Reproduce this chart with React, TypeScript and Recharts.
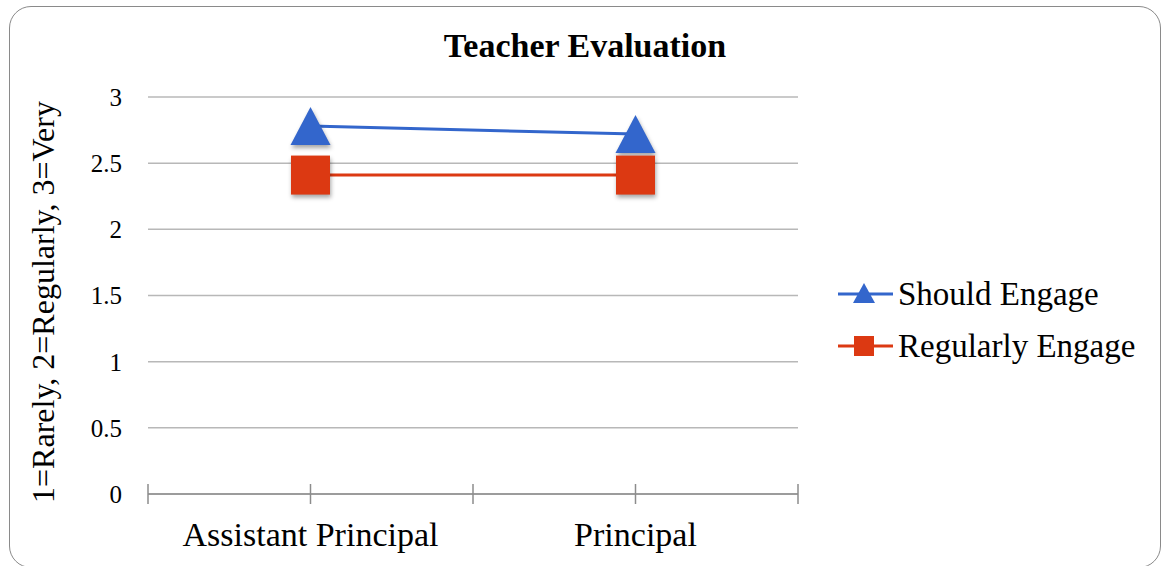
import { LineChart, Line, XAxis, YAxis, CartesianGrid } from 'recharts'

const categories = ['Assistant Principal', 'Principal']
const shouldEngage = [2.78, 2.72]
const regularlyEngage = [2.41, 2.41]
const yTicks = [0, 0.5, 1, 1.5, 2, 2.5, 3]

// categories sit at odd slots of a 0..4 axis so Excel-style boundary ticks show too
const data = categories.map((name, i) => ({
  slot: i * 2 + 1,
  name,
  should: shouldEngage[i],
  regularly: regularlyEngage[i],
}))

const BLUE = '#3366cc'
const RED = '#dc3912'
const FONT = '"Liberation Serif", "DejaVu Serif", serif'

const shadow = 'drop-shadow(1px 3px 2px rgba(0,0,0,0.35))'

function Triangle({ cx, cy }: any) {
  if (cx == null || cy == null) return null
  const w = 40, h = 38
  return (
    <path
      d={`M${cx},${cy - h / 2} L${cx + w / 2},${cy + h / 2} L${cx - w / 2},${cy + h / 2} Z`}
      fill={BLUE}
      style={{ filter: shadow }}
    />
  )
}

function Square({ cx, cy }: any) {
  if (cx == null || cy == null) return null
  const s = 39
  return <rect x={cx - s / 2} y={cy - s / 2} width={s} height={s} fill={RED} style={{ filter: shadow }} />
}

function XTick({ x, y, payload }: any) {
  const label = payload.value % 2 === 1 ? categories[(payload.value - 1) / 2] : ''
  const axisY = y - 4
  return (
    <g>
      <line x1={x} x2={x} y1={axisY - 10} y2={axisY + 10} stroke="#8c8c8c" strokeWidth={1.5} />
      {label && (
        <text x={x} y={axisY + 52} textAnchor="middle" fontSize={34} fill="#000" fontFamily={FONT}>
          {label}
        </text>
      )}
    </g>
  )
}

function ChartLegend() {
  const items = [
    { label: 'Should Engage', color: BLUE, shape: 'tri' },
    { label: 'Regularly Engage', color: RED, shape: 'sq' },
  ]
  return (
    <div style={{ position: 'absolute', left: 838, top: 268, fontFamily: FONT, fontSize: 33 }}>
      {items.map(it => (
        <div key={it.label} style={{ display: 'flex', alignItems: 'center', height: 52 }}>
          <svg width={58} height={30}>
            <line x1={0} x2={55} y1={15} y2={15} stroke={it.color} strokeWidth={3} />
            {it.shape === 'tri'
              ? <path d="M26,4 L37,24 L15,24 Z" fill={it.color} />
              : <rect x={16} y={5} width={20} height={20} fill={it.color} />}
          </svg>
          <span style={{ color: '#000', marginLeft: 2 }}>{it.label}</span>
        </div>
      ))}
    </div>
  )
}

export default function App() {
  return (
    <div style={{ position: 'absolute', left: 0, top: 0, width: 1162, height: 566, background: '#fff', overflow: 'hidden' }}>
      <div
        style={{
          position: 'absolute', left: 9, top: 6, width: 1152, height: 562,
          border: '1.5px solid #8a8a8a', borderRadius: 22, boxSizing: 'border-box',
        }}
      />
      <div
        style={{
          position: 'absolute', left: 0, top: 27, width: 1170, textAlign: 'center',
          fontFamily: FONT, fontWeight: 'bold', fontSize: 34, color: '#000', lineHeight: 'normal',
        }}
      >
        Teacher Evaluation
      </div>
      <LineChart
        width={1162}
        height={566}
        data={data}
        margin={{ top: 97, right: 364, bottom: 0, left: 0 }}
        style={{ position: 'absolute', left: 0, top: 0 }}
      >
        <CartesianGrid vertical={false} stroke="#b8b8b8" strokeWidth={1.5} />
        <XAxis
          dataKey="slot"
          type="number"
          domain={[0, 4]}
          ticks={[0, 1, 2, 3, 4]}
          height={72}
          tickSize={0}
          tickMargin={4}
          tick={<XTick />}
          axisLine={{ stroke: '#8c8c8c', strokeWidth: 1.5 }}
          interval={0}
        />
        <YAxis
          domain={[0, 3]}
          ticks={yTicks}
          width={148}
          tickSize={0}
          tickMargin={26}
          axisLine={false}
          tick={{ fontSize: 25, fill: '#000', fontFamily: FONT }}
          label={{
            content: () => (
              <text
                x={54}
                y={302}
                transform="rotate(-90 54 302)"
                textAnchor="middle"
                fontSize={32}
                fill="#000"
                fontFamily={FONT}
              >
                1=Rarely, 2=Regularly, 3=Very
              </text>
            ),
          }}
        />
        <Line
          dataKey="should"
          name="Should Engage"
          stroke={BLUE}
          strokeWidth={3}
          dot={<Triangle />}
          activeDot={false}
          isAnimationActive={false}
        />
        <Line
          dataKey="regularly"
          name="Regularly Engage"
          stroke={RED}
          strokeWidth={3}
          dot={<Square />}
          activeDot={false}
          isAnimationActive={false}
        />
      </LineChart>
      <ChartLegend />
    </div>
  )
}
